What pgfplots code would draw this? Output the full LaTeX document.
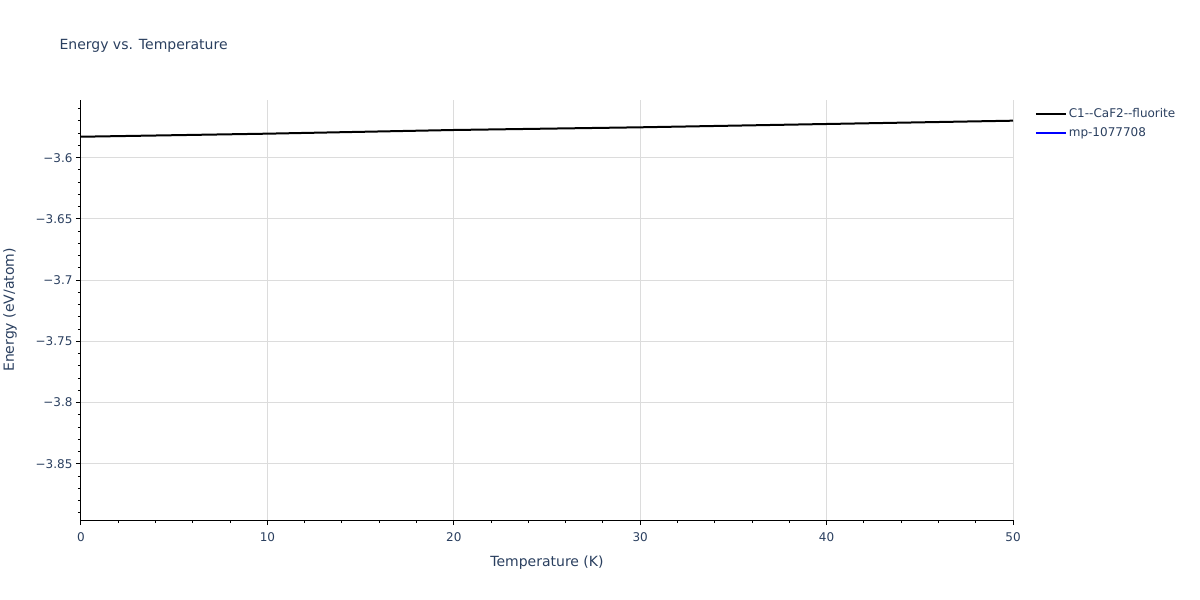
\documentclass[border=0pt]{standalone}
\usepackage{fontspec}
\setmainfont{DejaVu Sans}
\usepackage{pgfplots}
\pgfplotsset{compat=1.18}
\definecolor{txt}{HTML}{2A3F5F}
\definecolor{gridc}{HTML}{DCDCDC}

\begin{document}
\begin{tikzpicture}[x=1pt,y=1pt]
\begin{axis}[
    scale only axis, width=932pt, height=420pt,
    xmin=0, xmax=50, ymin=-3.8959, ymax=-3.5529,
    axis x line*=bottom, axis y line*=left,
    axis line style={-, black, line width=1pt},
    xtick={0,10,20,30,40,50},
    minor xtick={2,4,6,8,12,14,16,18,22,24,26,28,32,34,36,38,42,44,46,48},
    ytick={-3.85,-3.8,-3.75,-3.7,-3.65,-3.6},
    yticklabels={−3.85,−3.8,−3.75,−3.7,−3.65,−3.6},
    minor ytick={-3.89,-3.88,-3.87,-3.86,-3.84,-3.83,-3.82,-3.81,-3.79,-3.78,-3.77,-3.76,-3.74,-3.73,-3.72,-3.71,-3.69,-3.68,-3.67,-3.66,-3.64,-3.63,-3.62,-3.61,-3.59,-3.58,-3.57,-3.56},
    tick align=outside,
    major tick length=5pt, minor tick length=3pt,
    every tick/.style={black, line width=1pt},
    xmajorgrids, ymajorgrids,
    major grid style={gridc, line width=1pt},
    ticklabel style={text=txt, font=\fontsize{12}{14}\selectfont},
    xticklabel style={/pgf/number format/assume math mode=true, yshift=-4pt},
    xlabel={Temperature (K)},
    ylabel={Energy (eV/atom)},
    label style={text=txt, font=\fontsize{14}{16}\selectfont},
    xlabel style={at={(axis description cs:0.5,0)}, anchor=center, yshift=-43pt},
    ylabel style={at={(axis description cs:0,0.5)}, anchor=center, yshift=71pt},
    legend style={at={(axis description cs:1.02,0.99)}, anchor=north west,
        draw=none, fill=none, text=txt, font=\fontsize{12}{14}\selectfont,
        row sep=5pt, cells={anchor=west, inner xsep=5pt}},
    legend image code/.code={\draw[#1] (0pt,0pt) -- (30pt,0pt);},
]
\addplot[black, line width=2pt] coordinates {
    (0,-3.5829) (10,-3.5804) (20,-3.5774) (30,-3.5752) (40,-3.5725) (50,-3.5698)};
\addlegendentry{C1-{}-CaF2-{}-fluorite}
\addlegendimage{blue, line width=2pt}
\addlegendentry{mp-1077708}
\coordinate (O) at (rel axis cs:0,0);
\end{axis}
\pgfresetboundingbox
\path[use as bounding box] (O) ++(-81,-80) rectangle ++(1200,600);
\node[anchor=base west, text=txt, font=\fontsize{14}{16}\selectfont] at ([shift={(-25,470)}]O) {Energy vs. Temperature};
\end{tikzpicture}
\end{document}
